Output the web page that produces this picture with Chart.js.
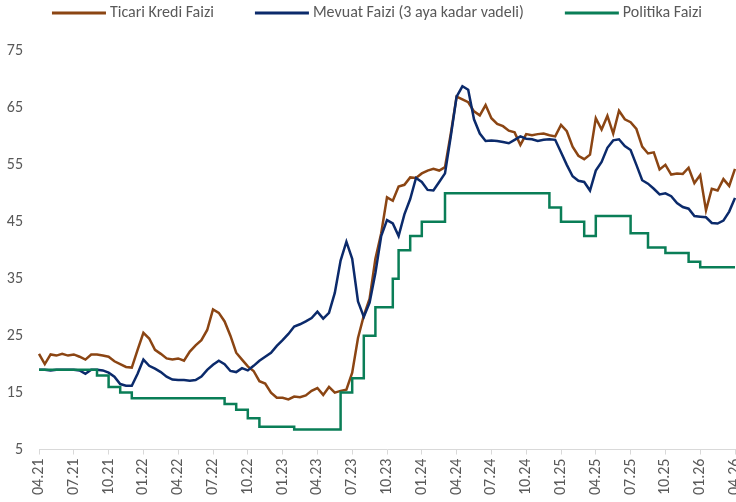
<!DOCTYPE html>
<html>
<head>
<meta charset="utf-8">
<script src="https://cdn.jsdelivr.net/npm/chart.js@4.4.1/dist/chart.umd.min.js"></script>
<style>
  html, body { margin: 0; padding: 0; background: #fff; }
  canvas { display: block; }
</style>
</head>
<body>
<canvas id="faizChart" width="736" height="502"></canvas>
<script>
// === DATA (two points per month, 04.21 -> 04.26) ===

const quarterTicks = ['04.21', '07.21', '10.21', '01.22', '04.22', '07.22', '10.22',
  '01.23', '04.23', '07.23', '10.23', '01.24', '04.24', '07.24', '10.24',
  '01.25', '04.25', '07.25', '10.25', '01.26', '04.26'];

// period names: MM.YY/1 = first half of month, MM.YY/2 = second half
const periods = [];
for (let m = 0; m <= 60; m++) {
  const month = (3 + m) % 12 + 1;
  const year = 21 + Math.floor((3 + m) / 12);
  const name = String(month).padStart(2, '0') + '.' + year;
  periods.push(name + '/1');
  if (m < 60) periods.push(name + '/2');
}

const ticariKredi = [
  21.8, 20.0, 21.7, 21.5, 21.8, 21.5, 21.7, 21.3, 20.8, 21.7,
  21.7, 21.5, 21.3, 20.5, 20.0, 19.5, 19.4, 22.5, 25.5, 24.5,
  22.5, 21.8, 21.0, 20.8, 21.0, 20.6, 22.2, 23.3, 24.2, 26.0,
  29.6, 29.0, 27.5, 25.0, 22.0, 20.8, 19.6, 18.8, 17.0, 16.6,
  15.0, 14.1, 14.1, 13.8, 14.3, 14.2, 14.5, 15.3, 15.8, 14.6,
  16.0, 15.0, 15.3, 15.5, 18.5, 24.6, 28.5, 31.5, 38.5, 43.0,
  49.3, 48.7, 51.2, 51.5, 52.8, 52.7, 53.5, 54.0, 54.3, 54.0,
  54.6, 60.5, 67.0, 66.5, 66.0, 64.4, 63.7, 65.5, 63.2, 62.2,
  61.8, 61.0, 60.7, 58.5, 60.4, 60.2, 60.4, 60.5, 60.2, 60.0,
  62.0, 60.9, 58.2, 56.6, 56.0, 56.8, 63.2, 61.2, 63.6, 60.5,
  64.5, 63.0, 62.5, 61.3, 58.2, 57.0, 57.2, 54.2, 55.0, 53.3,
  53.5, 53.4, 54.5, 51.8, 53.2, 47.0, 50.8, 50.5, 52.5, 51.3, 54.3
];

const mevduat = [
  19.0, 19.0, 18.9, 19.0, 19.0, 19.0, 19.0, 18.9, 18.3, 19.0,
  19.0, 18.9, 18.5, 17.8, 16.5, 16.2, 16.2, 18.3, 20.8, 19.7,
  19.2, 18.6, 17.8, 17.3, 17.2, 17.2, 17.1, 17.2, 17.8, 19.0,
  19.9, 20.6, 20.0, 18.8, 18.6, 19.3, 18.9, 19.7, 20.6, 21.3,
  22.0, 23.2, 24.2, 25.3, 26.6, 27.0, 27.5, 28.1, 29.2, 28.0,
  29.0, 32.5, 38.2, 41.5, 38.5, 31.0, 28.3, 30.8, 36.0, 42.5,
  45.3, 44.7, 42.5, 46.3, 49.0, 52.7, 52.0, 50.6, 50.5, 52.0,
  53.5, 60.0, 67.0, 68.8, 68.2, 63.0, 60.5, 59.2, 59.3, 59.2,
  59.0, 58.8, 59.4, 60.0, 59.6, 59.5, 59.2, 59.4, 59.5, 59.4,
  57.2, 55.0, 53.0, 52.2, 52.0, 50.5, 54.0, 55.5, 58.0, 59.3,
  59.5, 58.3, 57.6, 55.0, 52.3, 51.7, 50.8, 49.8, 50.0, 49.5,
  48.3, 47.6, 47.3, 46.0, 45.9, 45.8, 44.8, 44.7, 45.2, 46.8, 49.2
];

const politika = [
  19, 19, 19, 19, 19, 19, 19, 19, 19, 19,
  18, 18, 16, 16, 15, 15, 14, 14, 14, 14,
  14, 14, 14, 14, 14, 14, 14, 14, 14, 14,
  14, 14, 13, 13, 12, 12, 10.5, 10.5, 9, 9,
  9, 9, 9, 9, 8.5, 8.5, 8.5, 8.5, 8.5, 8.5,
  8.5, 8.5, 15, 15, 17.5, 17.5, 25, 25, 30, 30,
  30, 35, 40, 40, 42.5, 42.5, 45, 45, 45, 45,
  50, 50, 50, 50, 50, 50, 50, 50, 50, 50,
  50, 50, 50, 50, 50, 50, 50, 50, 47.5, 47.5,
  45, 45, 45, 45, 42.5, 42.5, 46, 46, 46, 46,
  46, 46, 43, 43, 43, 40.5, 40.5, 40.5, 39.5, 39.5,
  39.5, 39.5, 38, 38, 37, 37, 37, 37, 37, 37, 37
];

// === CHART ===

Chart.defaults.font.family = 'Carlito, "Liberation Sans", Arial, sans-serif';

// legend drawn as long line swatches like the original
const lineLegend = {
  id: 'lineLegend',
  afterDraw(chart) {
    const ctx = chart.ctx;
    const sets = chart.data.datasets;
    ctx.save();
    ctx.font = '16px ' + Chart.defaults.font.family;
    ctx.textBaseline = 'middle';
    const widths = sets.map(ds => ctx.measureText(ds.label).width);
    const total = widths.reduce((sum, w) => sum + 54 + 4 + w, 0) + 41 * (sets.length - 1);
    let x = 377 - total / 2;
    sets.forEach((ds, i) => {
      ctx.fillStyle = ds.borderColor;
      ctx.fillRect(x, 11.5, 54, 3);
      x += 58;
      ctx.fillStyle = '#595959';
      ctx.fillText(ds.label, x, 13);
      x += widths[i] + 41;
    });
    ctx.restore();
  }
};

new Chart(document.getElementById('faizChart'), {
  type: 'line',
  data: {
    labels: periods,
    datasets: [
      {
        label: 'Ticari Kredi Faizi',
        data: ticariKredi,
        borderColor: '#8B4513',
        order: 2
      },
      {
        label: 'Mevuat Faizi (3 aya kadar vadeli)',
        data: mevduat,
        borderColor: '#0B2A6B',
        order: 1
      },
      {
        label: 'Politika Faizi',
        data: politika,
        borderColor: '#0A7E57',
        stepped: true,
        order: 0
      }
    ]
  },
  options: {
    responsive: false,
    animation: false,
    elements: {
      line: { borderWidth: 2.5, tension: 0 },
      point: { radius: 0 }
    },
    layout: { padding: { top: 51, left: 7, right: 1, bottom: 3 } },
    plugins: {
      legend: { display: false },
      tooltip: { enabled: false }
    },
    scales: {
      x: {
        grid: { drawOnChartArea: false, tickLength: 5, color: '#d9d9d9' },
        border: { color: '#d9d9d9' },
        ticks: {
          autoSkip: false,
          minRotation: 90,
          maxRotation: 90,
          padding: 4,
          color: '#595959',
          font: { size: 16 },
          callback: (v, i) => (i % 6 === 0 ? quarterTicks[i / 6] : null)
        },
        // let the last rotated label run off the edge, as in the original
        afterFit(scale) {
          scale.paddingLeft = 0;
          scale.paddingRight = 0;
        }
      },
      y: {
        min: 5,
        max: 75,
        grid: { display: false, drawTicks: false },
        border: { display: false },
        ticks: { stepSize: 10, padding: 16, color: '#595959', font: { size: 16 } },
        afterFit(scale) {
          scale.width = 32;
        }
      }
    }
  },
  plugins: [lineLegend]
});
</script>
</body>
</html>
